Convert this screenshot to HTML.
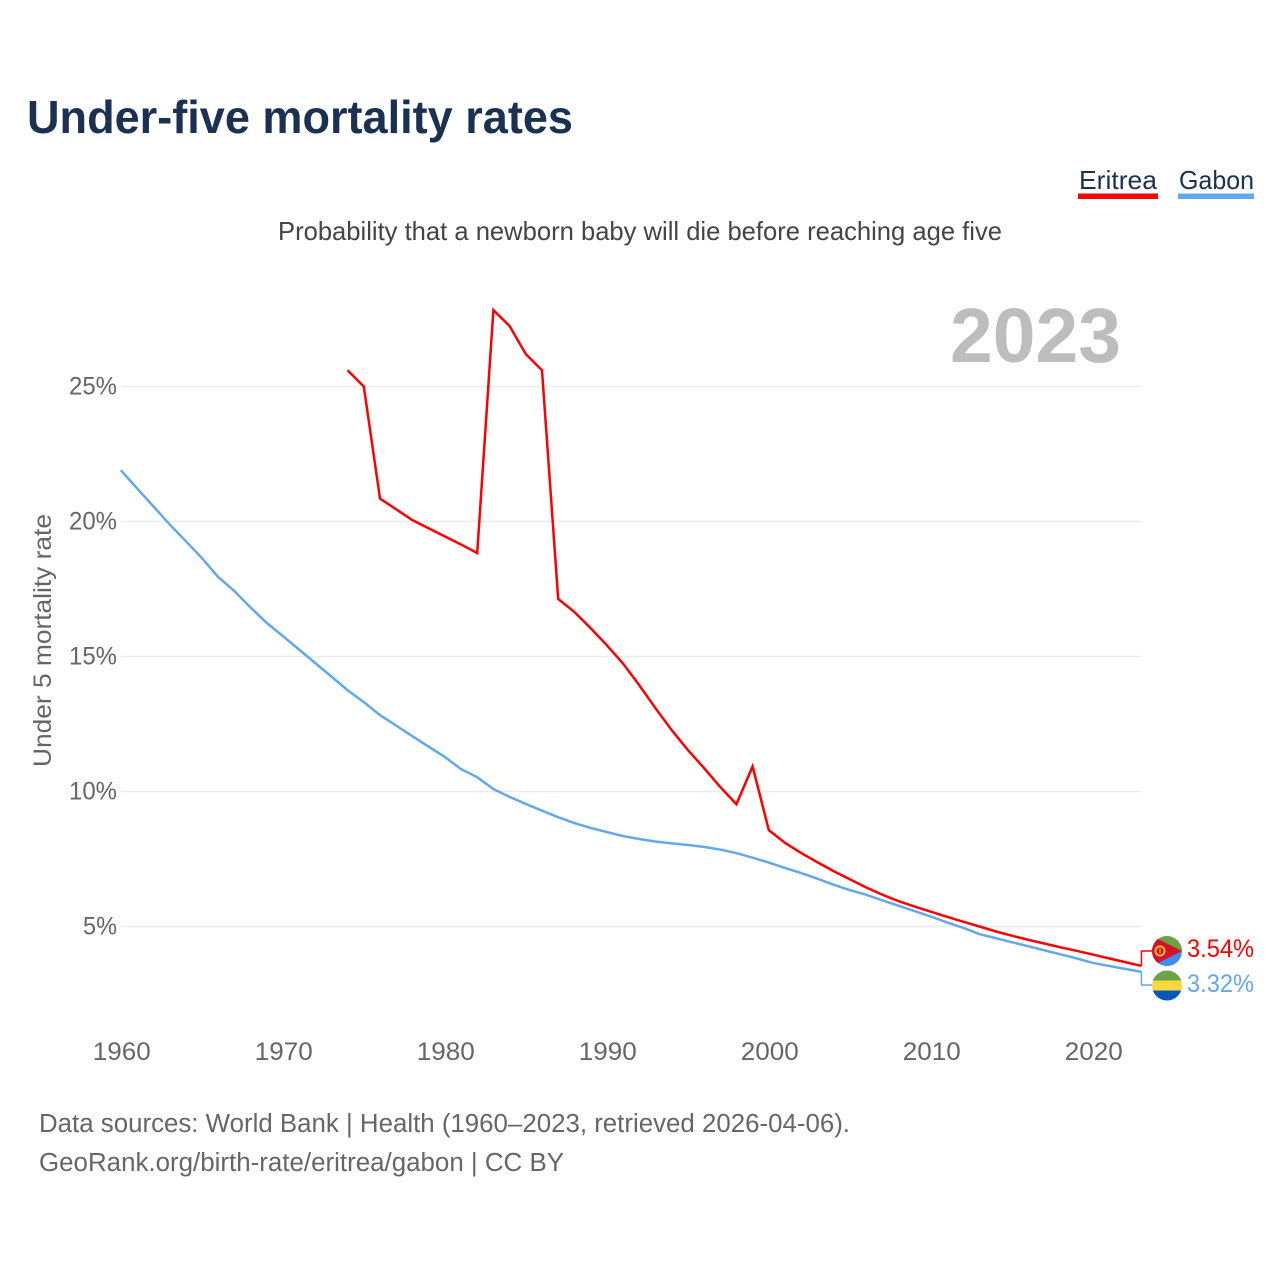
<!DOCTYPE html>
<html lang="en">
<head>
<meta charset="utf-8">
<title>Under-five mortality rates</title>
<style>
html,body{margin:0;padding:0;background:#fff;}
svg{display:block;}
text{font-family:"Liberation Sans",sans-serif;}
</style>
</head>
<body>
<svg id="chart" xmlns="http://www.w3.org/2000/svg" width="1280" height="1280" viewBox="0 0 1280 1280">
  <rect width="1280" height="1280" fill="#fff"/>
  <text x="27" y="133" font-size="46" font-weight="700" fill="#1a3152" textLength="546" lengthAdjust="spacingAndGlyphs">Under-five mortality rates</text>
  <text x="1079" y="189" font-size="26" fill="#1a3152" textLength="78" lengthAdjust="spacingAndGlyphs">Eritrea</text>
  <rect x="1078" y="193.5" width="80" height="5.5" fill="#ff0000"/>
  <text x="1179" y="189" font-size="26" fill="#1a3152" textLength="75" lengthAdjust="spacingAndGlyphs">Gabon</text>
  <rect x="1178" y="193.5" width="76" height="5.5" fill="#62a8ec"/>
  <text x="278" y="240" font-size="26" fill="#444" textLength="724" lengthAdjust="spacingAndGlyphs">Probability that a newborn baby will die before reaching age five</text>
  <text x="950" y="362" font-size="77" font-weight="700" fill="#bdbdbd" textLength="171" lengthAdjust="spacingAndGlyphs">2023</text>
  <text transform="translate(51,767) rotate(-90)" font-size="25" fill="#666" textLength="253" lengthAdjust="spacingAndGlyphs">Under 5 mortality rate</text>

  <g id="grid"></g>
  <g id="yticks"></g>
  <g id="xticks"></g>
  <g id="series"></g>

  <defs>
    <clipPath id="flag-clip-er"><circle cx="1167" cy="951" r="15"/></clipPath>
    <clipPath id="flag-clip-ga"><circle cx="1167" cy="985.5" r="15"/></clipPath>
  </defs>
  <g clip-path="url(#flag-clip-er)">
    <rect x="1152" y="936" width="30" height="15" fill="#6ba345"/>
    <rect x="1152" y="951" width="30" height="15" fill="#3b8df0"/>
    <polygon points="1152,936 1182,951 1152,966" fill="#d8112a"/>
    <circle cx="1160" cy="951" r="4.6" fill="none" stroke="#f5c62f" stroke-width="1.8"/>
    <rect x="1159.4" y="948.5" width="1.2" height="5" fill="#f5c62f"/>
  </g>
  <g clip-path="url(#flag-clip-ga)">
    <rect x="1152" y="970.5" width="30" height="10" fill="#6ba345"/>
    <rect x="1152" y="980.5" width="30" height="10" fill="#fcd83f"/>
    <rect x="1152" y="990.5" width="30" height="10" fill="#0a57b8"/>
  </g>
  <text x="1187" y="957" font-size="25" fill="#ff0000" textLength="67" lengthAdjust="spacingAndGlyphs">3.54%</text>
  <text x="1187" y="992" font-size="25" fill="#62a8ec" textLength="67" lengthAdjust="spacingAndGlyphs">3.32%</text>

  <text x="39" y="1132" font-size="25.5" fill="#666" textLength="811" lengthAdjust="spacingAndGlyphs">Data sources: World Bank | Health (1960–2023, retrieved 2026-04-06).</text>
  <text x="39" y="1171" font-size="25.5" fill="#666" textLength="525" lengthAdjust="spacingAndGlyphs">GeoRank.org/birth-rate/eritrea/gabon | CC BY</text>
</svg>
<script>
const yTickValues = [5, 10, 15, 20, 25];
const xTickYears = [1960, 1970, 1980, 1990, 2000, 2010, 2020];
const gabonStartYear = 1960;
const gabonValues = [21.9,21.23,20.57,19.9,19.28,18.65,17.95,17.43,16.82,16.25,15.76,15.26,14.76,14.26,13.75,13.31,12.83,12.44,12.05,11.66,11.28,10.83,10.53,10.09,9.8,9.54,9.29,9.05,8.83,8.65,8.5,8.35,8.24,8.15,8.08,8.02,7.95,7.85,7.72,7.55,7.37,7.17,6.98,6.77,6.55,6.35,6.18,5.97,5.77,5.57,5.37,5.15,4.95,4.72,4.57,4.42,4.27,4.12,3.97,3.82,3.65,3.54,3.43,3.32];
const eritreaStartYear = 1974;
const eritreaValues = [25.6,25.0,20.85,20.45,20.05,19.75,19.45,19.15,18.83,27.83,27.24,26.2,25.6,17.13,16.65,16.05,15.42,14.74,13.94,13.09,12.28,11.54,10.87,10.17,9.53,10.93,8.57,8.1,7.72,7.38,7.05,6.75,6.45,6.18,5.94,5.74,5.55,5.36,5.18,5.0,4.82,4.66,4.51,4.37,4.23,4.1,3.96,3.82,3.68,3.54];

const NS = 'http://www.w3.org/2000/svg';
const xScale = function (year) { return 120.8 + (year - 1960) * 16.2; };
const yScale = function (pct) { return 1061.5 - pct * 27; };

const gridGroup = document.getElementById('grid');
const yTickGroup = document.getElementById('yticks');
const xTickGroup = document.getElementById('xticks');
const seriesGroup = document.getElementById('series');

yTickValues.forEach(function (v) {
  const line = document.createElementNS(NS, 'line');
  
  
  line.setAttribute('x1', xScale(1960));
  line.setAttribute('x2', xScale(2023));
  line.setAttribute('y1', yScale(v));
  line.setAttribute('y2', yScale(v));
  line.setAttribute('stroke', '#ececec');
  line.setAttribute('stroke-width', '1.4');
  gridGroup.appendChild(line);

  const label = document.createElementNS(NS, 'text');
  
  
  const str = v + '%';
  const labelWidth = str.length * 14 + 6;
  label.setAttribute('x', 117 - labelWidth);
  label.setAttribute('y', yScale(v) + 8);
  label.setAttribute('font-size', '25');
  label.setAttribute('fill', '#666');
  label.setAttribute('textLength', labelWidth);
  label.setAttribute('lengthAdjust', 'spacingAndGlyphs');
  label.textContent = str;
  yTickGroup.appendChild(label);
});

xTickYears.forEach(function (yr) {
  const label = document.createElementNS(NS, 'text');
  
  
  label.setAttribute('x', xScale(yr) - 28);
  label.setAttribute('y', 1060);
  label.setAttribute('font-size', '25');
  label.setAttribute('fill', '#666');
  label.setAttribute('textLength', '58');
  label.setAttribute('lengthAdjust', 'spacingAndGlyphs');
  label.textContent = yr;
  xTickGroup.appendChild(label);
});

function seriesPoints(startYear, values) {
  return values.map(function (v, i) {
    return xScale(startYear + i).toFixed(2) + ',' + yScale(v).toFixed(2);
  });
}

const gabonLine = document.createElementNS(NS, 'polyline');


gabonLine.setAttribute('points', seriesPoints(gabonStartYear, gabonValues).join(' '));
gabonLine.setAttribute('fill', 'none');
gabonLine.setAttribute('stroke', '#62a8ec');
gabonLine.setAttribute('stroke-width', '2.5');
seriesGroup.appendChild(gabonLine);

const eritreaLine = document.createElementNS(NS, 'polyline');


eritreaLine.setAttribute('points', seriesPoints(eritreaStartYear, eritreaValues).join(' '));
eritreaLine.setAttribute('fill', 'none');
eritreaLine.setAttribute('stroke', '#ff0000');
eritreaLine.setAttribute('stroke-width', '2.5');
seriesGroup.appendChild(eritreaLine);

const gabonConnector = document.createElementNS(NS, 'polyline');


gabonConnector.setAttribute('points', xScale(2023) + ',' + yScale(gabonValues[gabonValues.length - 1]) + ' 1141.5,985 1152,985');
gabonConnector.setAttribute('fill', 'none');
gabonConnector.setAttribute('stroke', '#62a8ec');
gabonConnector.setAttribute('stroke-width', '1.5');
seriesGroup.appendChild(gabonConnector);

const eritreaConnector = document.createElementNS(NS, 'polyline');


eritreaConnector.setAttribute('points', xScale(2023) + ',' + yScale(eritreaValues[eritreaValues.length - 1]) + ' 1141.5,951 1152,951');
eritreaConnector.setAttribute('fill', 'none');
eritreaConnector.setAttribute('stroke', '#ff0000');
eritreaConnector.setAttribute('stroke-width', '1.5');
seriesGroup.appendChild(eritreaConnector);
</script>
</body>
</html>
